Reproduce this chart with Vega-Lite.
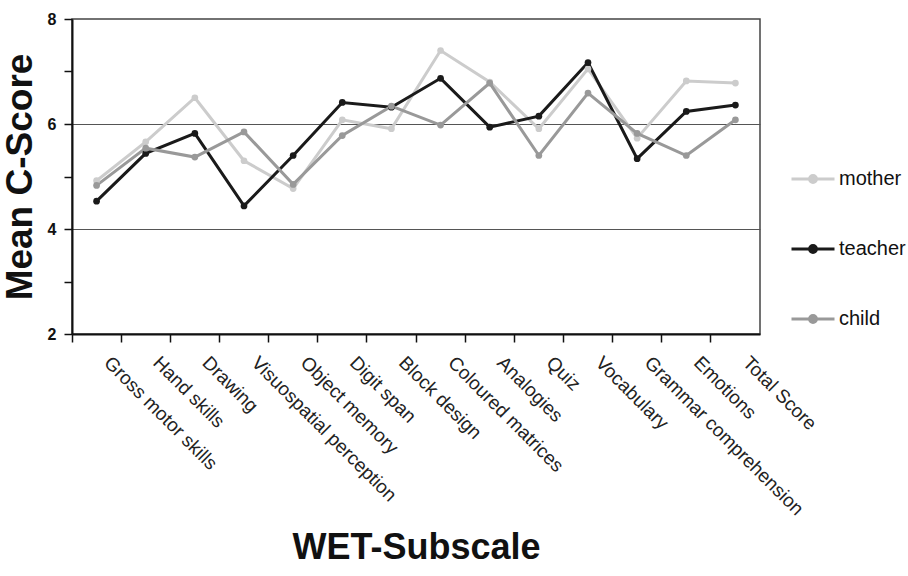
{
  "$schema": "https://vega.github.io/schema/vega-lite/v6.json",
  "width": 688,
  "height": 315,
  "autosize": {"type": "none"},
  "padding": {"left": 72, "top": 19, "right": 148, "bottom": 242},
  "background": "white",
  "config": {
    "font": "Liberation Sans",
    "view": {"stroke": "#444", "strokeWidth": 1.5}
  },
  "data": {
    "values": [
      {"subscale": "Gross motor skills", "rater": "mother", "score": 4.92},
      {"subscale": "Gross motor skills", "rater": "teacher", "score": 4.53},
      {"subscale": "Gross motor skills", "rater": "child", "score": 4.83},
      {"subscale": "Hand skills", "rater": "mother", "score": 5.66},
      {"subscale": "Hand skills", "rater": "teacher", "score": 5.44},
      {"subscale": "Hand skills", "rater": "child", "score": 5.54},
      {"subscale": "Drawing", "rater": "mother", "score": 6.5},
      {"subscale": "Drawing", "rater": "teacher", "score": 5.82},
      {"subscale": "Drawing", "rater": "child", "score": 5.37},
      {"subscale": "Visuospatial perception", "rater": "mother", "score": 5.3},
      {"subscale": "Visuospatial perception", "rater": "teacher", "score": 4.44},
      {"subscale": "Visuospatial perception", "rater": "child", "score": 5.85},
      {"subscale": "Object memory", "rater": "mother", "score": 4.77},
      {"subscale": "Object memory", "rater": "teacher", "score": 5.4},
      {"subscale": "Object memory", "rater": "child", "score": 4.85},
      {"subscale": "Digit span", "rater": "mother", "score": 6.08},
      {"subscale": "Digit span", "rater": "teacher", "score": 6.41},
      {"subscale": "Digit span", "rater": "child", "score": 5.78},
      {"subscale": "Block design", "rater": "mother", "score": 5.91},
      {"subscale": "Block design", "rater": "teacher", "score": 6.32},
      {"subscale": "Block design", "rater": "child", "score": 6.34},
      {"subscale": "Coloured matrices", "rater": "mother", "score": 7.4},
      {"subscale": "Coloured matrices", "rater": "teacher", "score": 6.87},
      {"subscale": "Coloured matrices", "rater": "child", "score": 5.98},
      {"subscale": "Analogies", "rater": "mother", "score": 6.8},
      {"subscale": "Analogies", "rater": "teacher", "score": 5.94},
      {"subscale": "Analogies", "rater": "child", "score": 6.78},
      {"subscale": "Quiz", "rater": "mother", "score": 5.91},
      {"subscale": "Quiz", "rater": "teacher", "score": 6.15},
      {"subscale": "Quiz", "rater": "child", "score": 5.4},
      {"subscale": "Vocabulary", "rater": "mother", "score": 7.05},
      {"subscale": "Vocabulary", "rater": "teacher", "score": 7.17},
      {"subscale": "Vocabulary", "rater": "child", "score": 6.59},
      {"subscale": "Grammar comprehension", "rater": "mother", "score": 5.73},
      {"subscale": "Grammar comprehension", "rater": "teacher", "score": 5.34},
      {"subscale": "Grammar comprehension", "rater": "child", "score": 5.82},
      {"subscale": "Emotions", "rater": "mother", "score": 6.82},
      {"subscale": "Emotions", "rater": "teacher", "score": 6.24},
      {"subscale": "Emotions", "rater": "child", "score": 5.4},
      {"subscale": "Total Score", "rater": "mother", "score": 6.78},
      {"subscale": "Total Score", "rater": "teacher", "score": 6.36},
      {"subscale": "Total Score", "rater": "child", "score": 6.08}
    ]
  },
  "encoding": {
    "x": {
      "field": "subscale",
      "type": "nominal",
      "sort": null,
      "scale": {"type": "band", "paddingInner": 0, "paddingOuter": 0},
      "axis": {
        "title": "WET-Subscale",
        "titleFontSize": 36,
        "titleFontWeight": "bold",
        "titleColor": "#111",
        "titlePadding": 12,
        "labelAngle": 45,
        "labelAlign": "left",
        "labelBaseline": "top",
        "labelFontSize": 19,
        "labelColor": "#222",
        "labelPadding": 11,
        "labelOffset": 17,
        "labelLimit": 400,
        "labelOverlap": false,
        "tickSize": 8,
        "tickColor": "#111",
        "tickWidth": 1.5,
        "bandPosition": 0,
        "domainColor": "#111",
        "domainWidth": 2
      }
    },
    "y": {
      "field": "score",
      "type": "quantitative",
      "scale": {"domain": [2, 8], "nice": false, "zero": false},
      "axis": {
        "title": "Mean C-Score",
        "titleFontSize": 37,
        "titleFontWeight": "bold",
        "titleColor": "#111",
        "titlePadding": 8,
        "values": [2, 3, 4, 5, 6, 7, 8],
        "labelExpr": "datum.value % 2 == 0 ? datum.label : ''",
        "labelFontSize": 16,
        "labelFontWeight": "bold",
        "labelColor": "#111",
        "labelPadding": 8,
        "tickSize": 8,
        "tickColor": "#111",
        "tickWidth": 1.5,
        "domainColor": "#111",
        "domainWidth": 2,
        "grid": true,
        "gridColor": "#555",
        "gridWidth": 1,
        "gridOpacity": {"condition": {"test": "datum.value == 4 || datum.value == 6", "value": 1}, "value": 0}
      }
    },
    "color": {
      "field": "rater",
      "type": "nominal",
      "sort": ["mother", "teacher", "child"],
      "scale": {"domain": ["mother", "teacher", "child"], "range": ["#cccccc", "#1a1a1a", "#999999"]},
      "legend": {
        "orient": "none",
        "legendX": 718,
        "legendY": 137,
        "title": null,
        "labelFontSize": 20,
        "labelColor": "#111",
        "labelOffset": 3,
        "rowPadding": 37,
        "symbolType": "M-1,0L1,0M-0.16,0A0.16,0.16,0,1,1,0.16,0A0.16,0.16,0,1,1,-0.16,0Z",
        "symbolSize": 1849,
        "symbolStrokeWidth": 3,
        "encode": {
          "symbols": {
            "update": {
              "fill": {"scale": "color", "field": "value"},
              "stroke": {"scale": "color", "field": "value"},
              "fillOpacity": {"value": 1},
              "strokeWidth": {"value": 3}
            }
          }
        }
      }
    }
  },
  "layer": [
    {"mark": {"type": "line", "strokeWidth": 3}},
    {"mark": {"type": "point", "filled": true, "size": 45, "opacity": 1}}
  ]
}
